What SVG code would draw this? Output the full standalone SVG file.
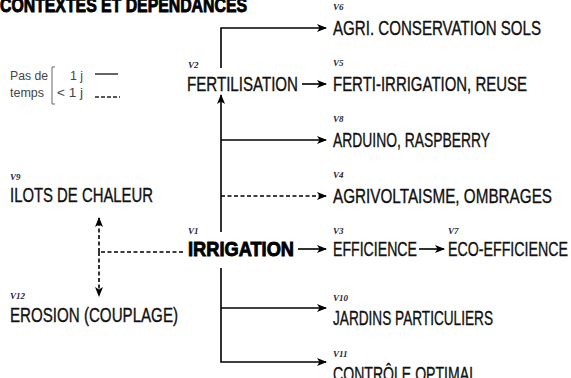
<svg xmlns="http://www.w3.org/2000/svg" width="571" height="378" viewBox="0 0 571 378">
<defs>
<style>
.t{font-family:"Liberation Sans",Arial,sans-serif;font-size:20px;fill:#111;stroke:#111;stroke-width:0.35;}
.h{font-family:"Liberation Sans",Arial,sans-serif;font-size:20px;font-weight:bold;fill:#000;stroke:#000;stroke-width:0.9;}
.v{font-family:"Liberation Serif","Times New Roman",serif;font-size:9px;font-weight:bold;font-style:italic;fill:#1c2340;}
.lg{font-family:"Liberation Sans",Arial,sans-serif;font-size:12.5px;fill:#444;}
.ln{fill:none;stroke:#000;stroke-width:1.6;}
.d{fill:none;stroke:#000;stroke-width:1.6;stroke-dasharray:4 2.5;}
</style>
<marker id="ah" viewBox="0 0 10 8" refX="9" refY="4" markerWidth="10" markerHeight="8" markerUnits="userSpaceOnUse" orient="auto">
<path d="M0,0 L10,4 L0,8 L2.5,4 z" fill="#000"/>
</marker>
</defs>

<text class="h" x="0" y="12" textLength="247" lengthAdjust="spacingAndGlyphs">CONTEXTES ET DEPENDANCES</text>

<g id="legend">
<text class="lg" x="10" y="80" textLength="38" lengthAdjust="spacingAndGlyphs">Pas de</text>
<text class="lg" x="10" y="97" textLength="34" lengthAdjust="spacingAndGlyphs">temps</text>
<path d="M55,67 L52,67 L52,104 L55,104" fill="none" stroke="#666" stroke-width="1"/>
<text class="lg" x="70" y="80" textLength="13" lengthAdjust="spacingAndGlyphs">1 j</text>
<text class="lg" x="57" y="97" textLength="26" lengthAdjust="spacingAndGlyphs">&lt; 1 j</text>
<line x1="95" y1="74" x2="118" y2="74" stroke="#222" stroke-width="1.4"/>
<line x1="95" y1="97" x2="120" y2="97" stroke="#222" stroke-width="1.4" stroke-dasharray="4 2"/>
</g>

<g id="connectors">
<path class="ln" d="M221,68 L221,28 L326,28" marker-end="url(#ah)"/>
<path class="ln" d="M302,84 L326,84" marker-end="url(#ah)"/>
<path class="ln" d="M221,232 L221,95" marker-end="url(#ah)"/>
<path class="ln" d="M221,140 L326,140" marker-end="url(#ah)"/>
<path class="d" d="M221,196 L326,196" marker-end="url(#ah)"/>
<path class="ln" d="M298,249 L326,249" marker-end="url(#ah)"/>
<path class="ln" d="M419,249 L444,249" marker-end="url(#ah)"/>
<path class="ln" d="M221,268 L221,362 L326,362" marker-end="url(#ah)"/>
<path class="ln" d="M221,308 L326,308" marker-end="url(#ah)"/>
<path class="d" d="M183,252 L99,252"/>
<path class="d" d="M99,252 L99,218" marker-end="url(#ah)"/>
<path class="d" d="M99,252 L99,296" marker-end="url(#ah)"/>
</g>

<g id="v6"><text class="v" x="333" y="10">V6</text><text class="t" x="333" y="35" textLength="208" lengthAdjust="spacingAndGlyphs">AGRI. CONSERVATION SOLS</text></g>
<g id="v2"><text class="v" x="188" y="68">V2</text><text class="t" x="187" y="91" textLength="111" lengthAdjust="spacingAndGlyphs">FERTILISATION</text></g>
<g id="v5"><text class="v" x="333" y="66">V5</text><text class="t" x="333" y="91" textLength="194" lengthAdjust="spacingAndGlyphs">FERTI-IRRIGATION, REUSE</text></g>
<g id="v8"><text class="v" x="333" y="122">V8</text><text class="t" x="333" y="147" textLength="157" lengthAdjust="spacingAndGlyphs">ARDUINO, RASPBERRY</text></g>
<g id="v4"><text class="v" x="333" y="178">V4</text><text class="t" x="333" y="203" textLength="219" lengthAdjust="spacingAndGlyphs">AGRIVOLTAISME, OMBRAGES</text></g>
<g id="v1"><text class="v" x="188" y="234">V1</text><text class="h" x="188" y="256" textLength="106" lengthAdjust="spacingAndGlyphs">IRRIGATION</text></g>
<g id="v3"><text class="v" x="333" y="234">V3</text><text class="t" x="333" y="256" textLength="84" lengthAdjust="spacingAndGlyphs">EFFICIENCE</text></g>
<g id="v7"><text class="v" x="448" y="234">V7</text><text class="t" x="448" y="256" textLength="120" lengthAdjust="spacingAndGlyphs">ECO-EFFICIENCE</text></g>
<g id="v9"><text class="v" x="10" y="180">V9</text><text class="t" x="10" y="202" textLength="143" lengthAdjust="spacingAndGlyphs">ILOTS DE CHALEUR</text></g>
<g id="v12"><text class="v" x="10" y="299">V12</text><text class="t" x="10" y="322" textLength="168" lengthAdjust="spacingAndGlyphs">EROSION (COUPLAGE)</text></g>
<g id="v10"><text class="v" x="333" y="301">V10</text><text class="t" x="333" y="325" textLength="160" lengthAdjust="spacingAndGlyphs">JARDINS PARTICULIERS</text></g>
<g id="v11"><text class="v" x="333" y="357">V11</text><text class="t" x="333" y="381" textLength="144" lengthAdjust="spacingAndGlyphs">CONTRÔLE OPTIMAL</text></g>
</svg>
